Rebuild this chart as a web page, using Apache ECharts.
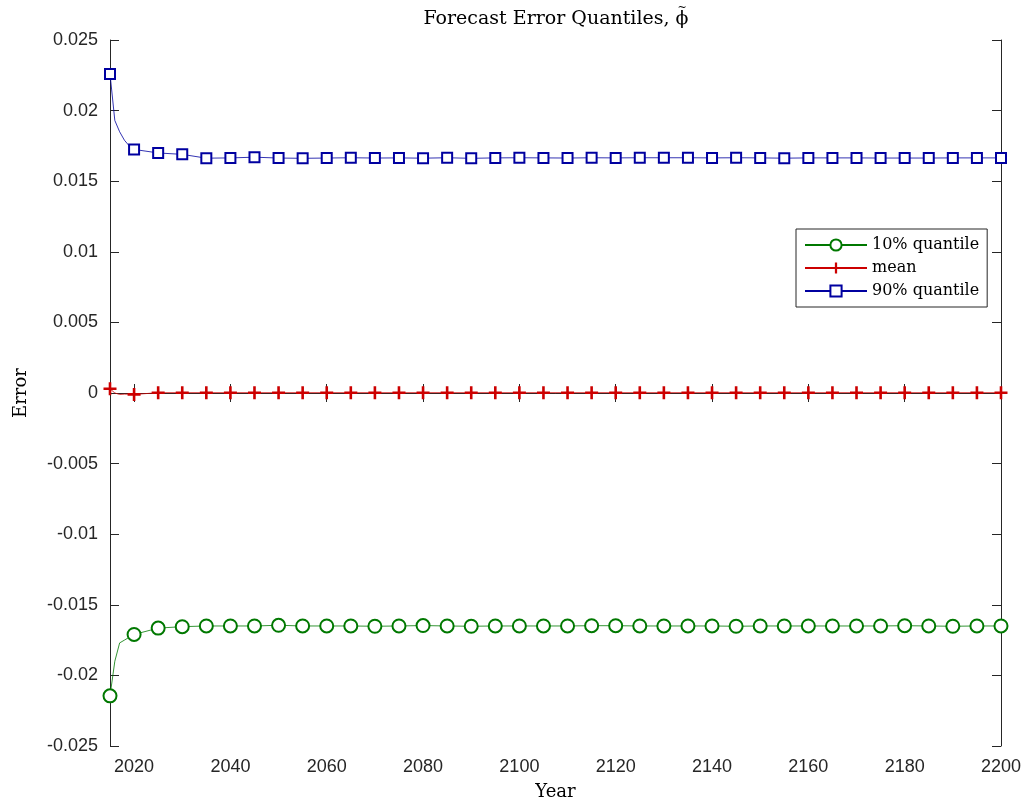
<!DOCTYPE html>
<html>
<head>
<meta charset="utf-8">
<script src="https://cdn.jsdelivr.net/npm/echarts@6/dist/echarts.min.js"></script>
<style>
  html, body { margin: 0; padding: 0; background: #fff; }
  #chart { width: 1025px; height: 804px; }
</style>
</head>
<body>
<div id="chart"></div>
<script>
// years with a data point (yearly at the start, every 5 years after that)
var years = [2015, 2016, 2017, 2018, 2019, 2020, 2025, 2030, 2035, 2040, 2045, 2050, 2055, 2060,
  2065, 2070, 2075, 2080, 2085, 2090, 2095, 2100, 2105, 2110, 2115, 2120, 2125, 2130,
  2135, 2140, 2145, 2150, 2155, 2160, 2165, 2170, 2175, 2180, 2185, 2190, 2195, 2200];

var q10 = [-0.02145, -0.0190, -0.0177, -0.0175, -0.0173, -0.0171, -0.01665, -0.01655, -0.0165, -0.0165,
  -0.0165, -0.01645, -0.0165, -0.0165, -0.0165, -0.01652, -0.0165, -0.01647, -0.0165, -0.01652,
  -0.0165, -0.0165, -0.0165, -0.0165, -0.01648, -0.01648, -0.0165, -0.0165, -0.0165, -0.0165,
  -0.01652, -0.0165, -0.0165, -0.0165, -0.0165, -0.0165, -0.0165, -0.01648, -0.0165, -0.01652,
  -0.0165, -0.0165];

var meanErr = [0.0003, 0.0000, -0.0001, -0.00008, -0.00008, -0.0001, 0.00002, 0.00002, 0.00002, 0.00002,
  0.00002, 0.00002, 0.00002, 0.00002, 0.00002, 0.00002, 0.00002, 0.00002, 0.00002, 0.00002,
  0.00002, 0.00002, 0.00002, 0.00002, 0.00002, 0.00002, 0.00002, 0.00002, 0.00002, 0.00002,
  0.00002, 0.00002, 0.00002, 0.00002, 0.00002, 0.00002, 0.00002, 0.00002, 0.00002, 0.00002,
  0.00002, 0.00002];

var q90 = [0.0226, 0.0193, 0.0185, 0.0179, 0.0175, 0.01725, 0.0170, 0.0169, 0.01663, 0.01665,
  0.0167, 0.01664, 0.01662, 0.01664, 0.01666, 0.01664, 0.01665, 0.01663, 0.01666, 0.01662,
  0.01665, 0.01666, 0.01665, 0.01664, 0.01666, 0.01665, 0.01666, 0.01666, 0.01666, 0.01665,
  0.01666, 0.01665, 0.01663, 0.01665, 0.01665, 0.01665, 0.01664, 0.01664, 0.01664, 0.01665,
  0.01665, 0.01665];

var xTicks = [2020, 2040, 2060, 2080, 2100, 2120, 2140, 2160, 2180, 2200];

var seriesNames = ['10% quantile', 'mean', '90% quantile'];
var colors = ['#007800', '#cc0000', '#0000a0'];

var axisColor = '#262626';
var serif = '"DejaVu Serif", "Liberation Serif", serif';
var sans = '"Liberation Sans", Arial, sans-serif';

// title text; the tilde over phi is drawn separately
var titlePrefix = 'Forecast Error Quantiles, ';
var titlePhi = 'ϕ';
var titleSize = 19;

var ctx = document.createElement('canvas').getContext('2d');
ctx.font = titleSize + 'px ' + serif;
var wPrefix = ctx.measureText(titlePrefix).width;
var wPhi = ctx.measureText(titlePhi).width;
var titleLeft = 556 - (wPrefix + wPhi) / 2;
var phiX = titleLeft + wPrefix + wPhi / 2;

// markers only every 5 years
function points(vals) {
  return years.map(function (yr, i) {
    var d = { value: [yr, vals[i]] };
    if (yr % 5 !== 0) d.symbol = 'none';
    return d;
  });
}

function fmtY(v) {
  return String(parseFloat(v.toFixed(4)));
}

var chart = echarts.init(document.getElementById('chart'));
chart.setOption({
  animation: false,
  backgroundColor: '#fff',
  title: {
    text: titlePrefix + titlePhi,
    left: titleLeft,
    top: 10,
    padding: 0,
    textStyle: { fontFamily: serif, fontSize: titleSize, fontWeight: 'normal', color: '#000' }
  },
  graphic: [
    {
      type: 'text', x: phiX, y: 8,
      style: { text: '~', fontFamily: serif, fontSize: 11, fill: '#000', align: 'center', verticalAlign: 'middle' }
    }
  ],
  legend: {
    orient: 'vertical',
    left: 796,
    top: 229,
    data: seriesNames,
    itemWidth: 62,
    itemHeight: 14,
    itemGap: 7,
    padding: [8, 8, 8, 8],
    backgroundColor: '#fff',
    borderColor: axisColor,
    borderWidth: 1,
    borderRadius: 0,
    textStyle: { fontFamily: serif, fontSize: 16, color: '#000' }
  },
  grid: { left: 110, right: 24, top: 40, bottom: 58, containLabel: false, outerBoundsMode: 'none' },
  xAxis: [
    {
      type: 'value', min: 2015, max: 2200, position: 'bottom',
      name: 'Year', nameLocation: 'middle', nameGap: 37,
      nameTextStyle: { fontFamily: serif, fontSize: 18, color: '#000' },
      axisLine: { show: true, lineStyle: { color: axisColor, width: 1 } },
      axisTick: { show: true, inside: true, length: 9, customValues: xTicks, lineStyle: { color: axisColor } },
      axisLabel: { customValues: xTicks, margin: 12, fontFamily: sans, fontSize: 18, color: '#262626',
        formatter: function (v) { return String(v); } },
      splitLine: { show: false }
    },
    {
      type: 'value', min: 2015, max: 2200, position: 'top',
      axisLine: { show: true, lineStyle: { color: axisColor, width: 1 } },
      axisTick: { show: true, inside: true, length: 9, customValues: xTicks, lineStyle: { color: axisColor } },
      axisLabel: { show: false },
      splitLine: { show: false }
    }
  ],
  yAxis: [
    {
      type: 'value', min: -0.025, max: 0.025, interval: 0.005, position: 'left',
      name: 'Error', nameLocation: 'middle', nameGap: 80,
      nameTextStyle: { fontFamily: serif, fontSize: 18, color: '#000' },
      axisLine: { show: true, lineStyle: { color: axisColor, width: 1 } },
      axisTick: { show: true, inside: true, length: 9, lineStyle: { color: axisColor } },
      axisLabel: { margin: 12, fontFamily: sans, fontSize: 18, color: '#262626', formatter: fmtY },
      splitLine: { show: false }
    },
    {
      type: 'value', min: -0.025, max: 0.025, interval: 0.005, position: 'right',
      axisLine: { show: true, lineStyle: { color: axisColor, width: 1 } },
      axisTick: { show: true, inside: true, length: 9, lineStyle: { color: axisColor } },
      axisLabel: { show: false },
      splitLine: { show: false }
    }
  ],
  series: [
    {
      name: seriesNames[0], type: 'line', xAxisIndex: 0, yAxisIndex: 0,
      data: points(q10),
      symbol: 'emptyCircle', symbolSize: 13,
      lineStyle: { color: colors[0], width: 0.8 },
      itemStyle: { color: colors[0], borderColor: colors[0], borderWidth: 2 }
    },
    {
      name: seriesNames[1], type: 'line', xAxisIndex: 0, yAxisIndex: 0,
      data: points(meanErr),
      symbol: 'path://M4,0H6V4H10V6H6V10H4V6H0V4H4Z', symbolSize: 13,
      lineStyle: { color: colors[1], width: 0.8 },
      itemStyle: { color: colors[1], borderWidth: 0 }
    },
    {
      name: seriesNames[2], type: 'line', xAxisIndex: 0, yAxisIndex: 0,
      data: points(q90),
      symbol: 'emptyRect', symbolSize: 10,
      lineStyle: { color: colors[2], width: 0.8 },
      itemStyle: { color: colors[2], borderColor: colors[2], borderWidth: 2 }
    }
  ]
});
</script>
</body>
</html>
